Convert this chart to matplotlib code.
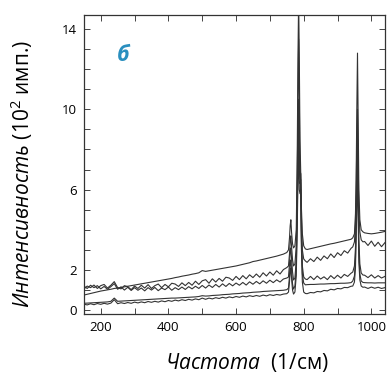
import matplotlib
matplotlib.use('Agg')
import matplotlib.pyplot as plt
from matplotlib.ticker import MultipleLocator, FixedLocator

plt.rcParams['font.family'] = ['Open Sans', 'DejaVu Sans']
plt.rcParams['mathtext.fontset'] = 'custom'
plt.rcParams['mathtext.rm'] = 'Open Sans'
plt.rcParams['mathtext.it'] = 'Open Sans:italic'

# частоты (1/см), общая сетка для всех спектров
freq = [150, 160, 170, 180, 190, 200, 210, 220, 230, 240,
        250, 260, 270, 280, 290, 300, 310, 320, 330, 340,
        350, 360, 370, 380, 390, 400, 410, 420, 430, 440,
        450, 460, 470, 480, 490, 500, 510, 520, 530, 540,
        550, 560, 570, 580, 590, 600, 610, 620, 630, 640,
        650, 660, 670, 680, 690, 700, 710, 720, 730, 740, 750,
        755, 758, 760, 762, 764, 767, 770, 774, 778, 781,
        783, 785, 787, 789, 791, 793, 796, 800, 805,
        810, 820, 830, 840, 850, 860, 870, 880, 890, 900,
        910, 920, 930, 940,
        945, 950, 953, 955, 957, 959, 961, 963, 966, 970, 975,
        980, 990, 1000, 1010, 1020, 1030, 1040]

# спектр 1 (верхний, гладкий)
spec1 = [0.75, 0.79, 0.83, 0.87, 0.91, 0.95, 0.98, 1.01, 1.04, 1.08,
         1.10, 1.13, 1.16, 1.19, 1.22, 1.25, 1.28, 1.31, 1.34, 1.37,
         1.40, 1.43, 1.46, 1.49, 1.52, 1.55, 1.58, 1.62, 1.65, 1.69,
         1.72, 1.75, 1.79, 1.82, 1.86, 1.97, 1.93, 1.96, 1.99, 2.02,
         2.05, 2.08, 2.11, 2.14, 2.17, 2.20, 2.24, 2.28, 2.32, 2.36,
         2.42, 2.45, 2.49, 2.53, 2.57, 2.61, 2.65, 2.69, 2.74, 2.79, 2.87,
         3.0, 3.6, 4.2, 4.5, 3.9, 3.3, 3.1, 3.2, 4.0, 8.0,
         12.5, 15.5, 12.5, 8.5, 7.0, 5.2, 3.8, 3.2, 3.05,
         3.02, 3.06, 3.10, 3.14, 3.18, 3.22, 3.26, 3.30, 3.33, 3.37,
         3.41, 3.45, 3.49, 3.53,
         3.6, 3.8, 4.8, 6.5, 10.0, 12.8, 9.5, 6.0, 4.5, 4.0, 3.9,
         3.85, 3.82, 3.80, 3.82, 3.85, 3.88, 3.92]

# спектр 2 (шумный, выше)
spec2 = [1.05, 1.20, 1.12, 1.25, 1.08, 1.22, 1.28, 1.10, 1.24, 1.42,
         1.12, 1.06, 1.22, 1.17, 1.02, 1.20, 1.08, 1.24, 1.10, 1.27,
         1.08, 1.22, 1.30, 1.12, 1.28, 1.16, 1.34, 1.30, 1.18, 1.36,
         1.22, 1.38, 1.24, 1.44, 1.28, 1.46, 1.52, 1.34, 1.56, 1.40,
         1.58, 1.44, 1.64, 1.60, 1.48, 1.68, 1.52, 1.72, 1.56, 1.76,
         1.62, 1.80, 1.64, 1.86, 1.70, 1.90, 1.74, 1.96, 1.80, 2.02, 2.12,
         2.2, 2.8, 3.4, 3.7, 3.2, 2.5, 2.2, 2.3, 3.2, 6.5,
         10.5, 13.5, 10.5, 7.0, 6.8, 4.8, 3.0, 2.55, 2.45,
         2.38, 2.56, 2.42, 2.64, 2.48, 2.70, 2.56, 2.80, 2.62, 2.86,
         2.72, 2.96, 2.84, 3.08,
         3.15, 3.4, 4.3, 5.8, 8.5, 10.0, 7.5, 5.0, 3.9, 3.5, 3.4,
         3.42, 3.22, 3.44, 3.18, 3.38, 3.16, 3.36]

# спектр 3 (шумный, ниже)
spec3 = [1.20, 1.08, 1.24, 1.12, 1.22, 1.06, 1.18, 1.04, 1.17, 1.32,
         1.04, 1.16, 1.00, 1.14, 0.98, 1.12, 0.99, 1.10, 0.96, 1.12,
         1.00, 1.13, 0.97, 1.10, 1.02, 1.15, 0.99, 1.12, 1.02, 1.15,
         1.03, 1.17, 1.06, 1.19, 1.08, 1.23, 1.10, 1.25, 1.13, 1.28,
         1.15, 1.31, 1.18, 1.33, 1.21, 1.35, 1.24, 1.38, 1.25, 1.41,
         1.29, 1.43, 1.31, 1.46, 1.34, 1.49, 1.37, 1.51, 1.40, 1.55, 1.60,
         1.65, 2.3, 2.9, 3.1, 2.6, 1.9, 1.5, 1.6, 2.5, 5.5,
         8.5, 10.5, 8.0, 6.8, 6.8, 4.2, 2.2, 1.65, 1.55,
         1.52, 1.68, 1.52, 1.70, 1.55, 1.66, 1.52, 1.72, 1.57, 1.74,
         1.60, 1.78, 1.68, 1.84,
         1.9, 2.2, 3.1, 4.6, 6.8, 8.5, 6.2, 3.5, 2.3, 1.85, 1.75,
         1.74, 1.62, 1.76, 1.60, 1.72, 1.60, 1.68]

# спектр 4 (нижний, гладкий)
spec4 = [0.34, 0.35, 0.36, 0.37, 0.38, 0.39, 0.40, 0.41, 0.44, 0.60,
         0.44, 0.45, 0.46, 0.47, 0.48, 0.49, 0.50, 0.51, 0.52, 0.53,
         0.54, 0.55, 0.56, 0.57, 0.58, 0.59, 0.60, 0.60, 0.61, 0.62,
         0.63, 0.64, 0.65, 0.66, 0.68, 0.72, 0.70, 0.71, 0.73, 0.74,
         0.75, 0.77, 0.78, 0.79, 0.81, 0.82, 0.83, 0.85, 0.86, 0.87,
         0.89, 0.90, 0.91, 0.93, 0.94, 0.95, 0.96, 0.97, 0.98, 0.99, 1.02,
         1.1, 1.7, 2.3, 2.5, 2.0, 1.3, 1.05, 1.2, 2.1, 4.8,
         7.5, 9.0, 7.0, 6.3, 6.5, 3.7, 1.8, 1.35, 1.26,
         1.27, 1.28, 1.28, 1.29, 1.30, 1.30, 1.31, 1.32, 1.32, 1.33,
         1.34, 1.34, 1.35, 1.37,
         1.45, 1.7, 2.6, 4.2, 6.0, 7.5, 5.5, 2.9, 1.8, 1.45, 1.38,
         1.37, 1.36, 1.36, 1.35, 1.36, 1.36, 1.36]

# спектр 5 (самый нижний)
spec5 = [0.30, 0.26, 0.32, 0.27, 0.33, 0.29, 0.34, 0.30, 0.35, 0.52,
         0.32, 0.37, 0.33, 0.38, 0.34, 0.40, 0.36, 0.41, 0.37, 0.43,
         0.39, 0.44, 0.40, 0.46, 0.42, 0.48, 0.44, 0.50, 0.46, 0.52,
         0.48, 0.54, 0.50, 0.56, 0.52, 0.60, 0.54, 0.60, 0.56, 0.62,
         0.58, 0.64, 0.60, 0.66, 0.62, 0.68, 0.64, 0.70, 0.66, 0.72,
         0.68, 0.73, 0.69, 0.75, 0.71, 0.77, 0.73, 0.78, 0.75, 0.80, 0.82,
         0.9, 1.4, 1.9, 2.1, 1.6, 1.0, 0.8, 0.9, 1.7, 4.2,
         6.5, 7.8, 6.0, 5.8, 6.0, 3.2, 1.4, 0.9, 0.83,
         0.82, 0.88, 0.86, 0.93, 0.91, 0.98, 0.96, 1.04, 1.01, 1.08,
         1.06, 1.13, 1.12, 1.19,
         1.2, 1.4, 2.1, 3.6, 5.2, 6.5, 4.6, 2.4, 1.5, 1.2, 1.14,
         1.15, 1.08, 1.15, 1.09, 1.14, 1.08, 1.12]

spectra = [spec1, spec2, spec3, spec4, spec5]

x_ticks_labeled = [200, 400, 600, 800, 1000]
y_ticks_labeled = [0, 2, 6, 10, 14]

fig = plt.figure(figsize=(3.88, 3.74), dpi=100)
ax = fig.add_axes([0.216, 0.160, 0.776, 0.800])

for s in spectra:
    ax.plot(freq, s, color='#333333', lw=0.8)

ax.set_xlim(150, 1040)
ax.set_ylim(-0.2, 14.7)

ax.xaxis.set_major_locator(FixedLocator(x_ticks_labeled))
ax.xaxis.set_minor_locator(MultipleLocator(100))
ax.yaxis.set_major_locator(FixedLocator(y_ticks_labeled))
ax.yaxis.set_minor_locator(MultipleLocator(1))
ax.tick_params(which='both', direction='in', top=True, right=True,
               width=0.7, color='#444444')
ax.tick_params(which='major', length=4.5, labelsize=9.5, pad=5)
ax.tick_params(which='minor', length=4.5)
for sp in ax.spines.values():
    sp.set_linewidth(0.9)
    sp.set_color('#333333')

ax.text(0.13, 0.866, 'б', transform=ax.transAxes, ha='center', va='center',
        fontsize=15.5, fontweight='bold', style='italic', color='#2a8fbf')

fig.text(22 / 388, 1 - 174 / 374, r'$\mathit{Интенсивность}$ (10$^2$ имп.)',
         rotation=90, ha='center', va='center', fontsize=15)
fig.text(247 / 388, 1 - 362 / 374, r'$\mathit{Частота}$  (1/см)',
         ha='center', va='center', fontsize=15)

fig.savefig('out.png', dpi=100)
